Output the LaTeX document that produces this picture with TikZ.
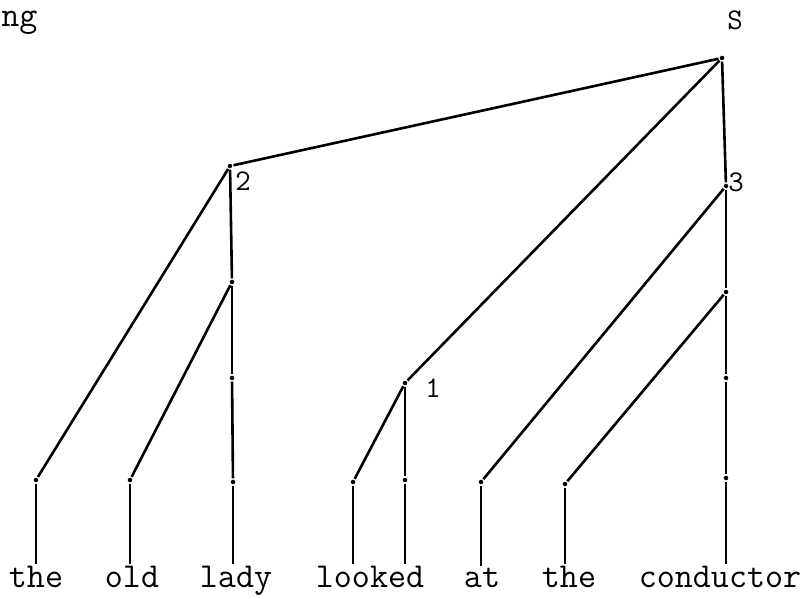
\documentclass[tikz,border=0pt]{standalone}
\tikzset{
  pt/.style={circle, fill, inner sep=1.6pt},
  word/.style={font=\ttfamily\fontsize{35}{40}\selectfont, inner sep=0pt, anchor=base},
  lab/.style={font=\ttfamily\fontsize{30}{34}\selectfont, inner sep=0pt, anchor=base}
}
\begin{document}
\begin{tikzpicture}[x=1pt, y=-1pt, line width=2.6pt]
    \useasboundingbox (0,0) rectangle (808,599);
        \node[pt] (s) at (722, 58) {};
        \node[pt] (n2) at (230, 166) {};
        \node[pt] (n3) at (726, 186) {};
        \node[pt] (n1) at (405, 383) {};
        \node[pt] (a) at (232, 282) {};
        \node[pt] (b) at (232, 378) {};
        \node[pt] (c) at (726, 292) {};
        \node[pt] (d) at (726, 378) {};
        \node[pt] (l1) at (36, 480) {};
        \node[pt] (l2) at (130, 480) {};
        \node[pt] (l3) at (233, 482) {};
        \node[pt] (l4) at (353, 482) {};
        \node[pt] (l5) at (405, 480) {};
        \node[pt] (l6) at (481, 482) {};
        \node[pt] (l7) at (565, 484) {};
        \node[pt] (l8) at (726, 478) {};
        \node[word] (w1) at (36, 587) {the};
        \node[word] (w2) at (132, 587) {old};
        \node[word] (w3) at (236, 587) {lady};
        \node[word] (w4) at (370, 587) {looked};
        \node[word] (w5) at (482, 587) {at};
        \node[word] (w6) at (569, 587) {the};
        \node[word] (w7) at (720, 587) {conductor};
        \node[lab] (ls) at (735, 30) {S};
        \node[lab] (ln2) at (243, 190) {2};
        \node[lab] (ln1) at (433, 397) {1};
        \node[lab] (ln3) at (736, 191) {3};
        \node[word, anchor=base west] (ng) at (0, 27) {ng};
        \draw[] (s) -- (n2);
        \draw[] (s) -- (n1);
        \draw[] (s) -- (n3);
        \draw[] (n2) -- (l1);
        \draw[] (n2) -- (a);
        \draw[] (a) -- (l2);
        \draw[] (a) -- (b);
        \draw[] (b) -- (l3);
        \draw[] (n1) -- (l4);
        \draw[] (n1) -- (l5);
        \draw[] (n3) -- (l6);
        \draw[] (n3) -- (c);
        \draw[] (c) -- (l7);
        \draw[] (c) -- (d);
        \draw[] (d) -- (l8);
        \draw[] (l1) -- (l1 |- w1.north);
        \draw[] (l2) -- (l2 |- w2.north);
        \draw[] (l3) -- (l3 |- w3.north);
        \draw[] (l4) -- (l4 |- w4.north);
        \draw[] (l5) -- (l5 |- w4.north);
        \draw[] (l6) -- (l6 |- w5.north);
        \draw[] (l7) -- (l7 |- w6.north);
        \draw[] (l8) -- (l8 |- w7.north);
    \end{tikzpicture}
\end{document}
